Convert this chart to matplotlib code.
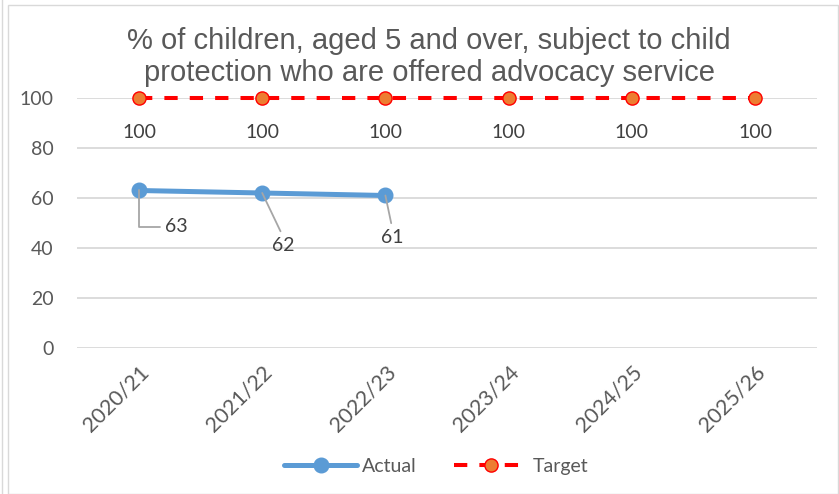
import matplotlib
matplotlib.use("Agg")
import matplotlib.pyplot as plt
from matplotlib.lines import Line2D
from matplotlib.patches import Rectangle

# Data
years = ["2020/21", "2021/22", "2022/23", "2023/24", "2024/25", "2025/26"]
actual = [63, 62, 61]
target = [100, 100, 100, 100, 100, 100]
yticks = [0, 20, 40, 60, 80, 100]

title = "% of children, aged 5 and over, subject to child\nprotection who are offered advocacy service"

BLUE = "#5B9BD5"
RED = "#FF0000"
ORANGE = "#ED7D31"
GRID = "#D9D9D9"
TXT = "#595959"
LBL = "#404040"
LABEL_FONT = ["Lato", "DejaVu Sans"]

W, H = 839, 494
fig = plt.figure(figsize=(W / 100, H / 100), dpi=100)

# chart frame
fig.add_artist(Rectangle((8 / W, 0), 1 - 9 / W, 1 - 5 / H, transform=fig.transFigure,
                         fill=False, edgecolor="#D9D9D9", lw=1.0))
fig.add_artist(Line2D([2 / W, 2 / W], [0, 1], transform=fig.transFigure,
                      color="#D9D9D9", lw=1.0))

ax = fig.add_axes([77.4 / W, (H - 348) / H, 739.2 / W, 250 / H])
x = list(range(len(years)))
ax.set_xlim(-0.5, len(years) - 0.5)
ax.set_ylim(0, 100)

for s in ax.spines.values():
    s.set_visible(False)
ax.set_yticks(yticks)
ax.yaxis.grid(True, color=GRID, lw=1.3)
ax.set_axisbelow(True)
ax.tick_params(axis="both", length=0, colors=TXT)
ax.tick_params(axis="y", pad=17)
ax.set_yticklabels([str(v) for v in yticks], fontsize=14, family=LABEL_FONT, color=TXT)
ax.set_xticks(x)
ax.set_xticklabels(years, rotation=45, ha="right", rotation_mode="anchor",
                   fontsize=15.5, family=LABEL_FONT, color=TXT)
ax.tick_params(axis="x", pad=10)

# Series
ax.plot(x[:len(actual)], actual, color=BLUE, lw=3.6, marker="o", ms=10.5,
        markerfacecolor=BLUE, markeredgecolor=BLUE, solid_capstyle="round",
        clip_on=False, zorder=3, label="Actual")
ax.plot(x, target, color=RED, lw=2.9, dashes=(3.3, 3.0), marker="o", ms=9.5,
        markerfacecolor=ORANGE, markeredgecolor=RED, markeredgewidth=1.0,
        clip_on=False, zorder=4, label="Target")

# Target value labels
for xi, v in zip(x, target):
    ax.annotate(str(v), (xi, v), xytext=(0, -25), textcoords="offset points",
                ha="center", va="center", fontsize=14, family=LABEL_FONT, color=LBL)

# Actual value labels with leader lines
offsets = [(27, -26), (15, -37.5), (5, -30)]
relpos = [(0.0, 0.5), (0.5, 1.0), (0.5, 1.0)]
conn = ["angle,angleA=0,angleB=90,rad=0", "arc3,rad=0", "arc3,rad=0"]
for xi, v, off, rp, cs in zip(x, actual, offsets, relpos, conn):
    ax.annotate(str(v), (xi, v), xytext=off, textcoords="offset points",
                ha="center", va="center", fontsize=14, family=LABEL_FONT, color=LBL,
                arrowprops=dict(arrowstyle="-", color="#A6A6A6", lw=1.3,
                                connectionstyle=cs, relpos=rp,
                                shrinkA=2, shrinkB=0))

fig.text(429 / W, 1 - 57 / H, title, ha="center", va="center", fontsize=21,
         family=["Liberation Sans", "DejaVu Sans"], color=TXT, linespacing=1.17)

leg = fig.legend(loc="center", bbox_to_anchor=(436 / W, 1 - 466 / H), ncol=2,
                 frameon=False, handlelength=3.8, columnspacing=1.9, handletextpad=0.25,
                 prop={"family": LABEL_FONT, "size": 14})
for t in leg.get_texts():
    t.set_color(TXT)

fig.savefig("out.png", dpi=100)
